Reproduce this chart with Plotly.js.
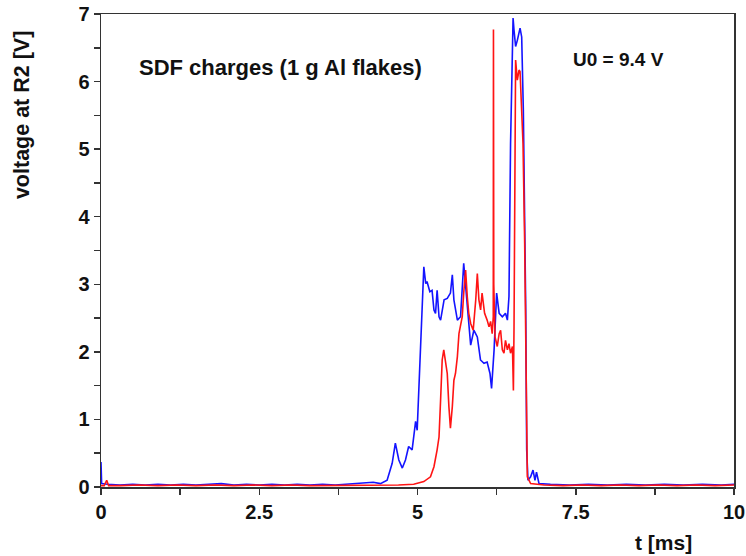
<!DOCTYPE html>
<html>
<head>
<meta charset="utf-8">
<script src="https://cdn.plot.ly/plotly-3.0.1.min.js"></script>
<style>html,body{margin:0;padding:0;background:#fff;}#chart{width:746px;height:556px;}</style>
</head>
<body>
<div id="chart"></div>
<script>
// Blue trace (time in ms, voltage in V)
var blueT = [0, 0.01, 0.1, 0.3, 0.5, 0.7, 0.9, 1.1, 1.3, 1.5, 1.7, 1.9, 2.1, 2.3, 2.5, 2.7, 2.9, 3.1, 3.3, 3.5, 3.7, 3.9, 4.1, 4.2, 4.3, 4.415,
  4.52, 4.60, 4.65, 4.705, 4.76, 4.81, 4.86, 4.915, 4.97, 4.995, 5.02, 5.05, 5.075, 5.10, 5.13, 5.15, 5.195, 5.23, 5.26, 5.285, 5.31, 5.34, 5.365,
  5.42, 5.47, 5.52, 5.55, 5.575, 5.63, 5.68, 5.73, 5.775, 5.81, 5.84, 5.89, 5.945, 5.995, 6.05, 6.10, 6.145, 6.17, 6.21, 6.25, 6.29, 6.34, 6.39,
  6.42, 6.445, 6.47, 6.498, 6.51, 6.525, 6.55, 6.577, 6.62, 6.646, 6.672, 6.71, 6.725, 6.745, 6.787, 6.825, 6.856, 6.88, 6.92,
  7.1, 7.4, 7.7, 8.0, 8.3, 8.6, 8.9, 9.2, 9.5, 9.8, 10.0];
var blueV = [0.37, 0.05, 0.04, 0.03, 0.04, 0.03, 0.04, 0.03, 0.04, 0.03, 0.04, 0.05, 0.03, 0.04, 0.03, 0.04, 0.03, 0.04, 0.03, 0.04, 0.03, 0.04, 0.05, 0.06, 0.07, 0.05,
  0.10, 0.35, 0.65, 0.40, 0.28, 0.40, 0.60, 0.55, 0.97, 0.84, 1.43, 2.03, 2.77, 3.26, 3.01, 3.04, 2.89, 2.91, 2.62, 2.57, 2.91, 2.52, 2.47,
  2.77, 2.79, 2.87, 3.14, 2.77, 2.47, 2.52, 3.31, 2.77, 2.37, 2.10, 2.32, 2.22, 1.88, 1.83, 1.85, 1.68, 1.46, 2.03, 2.87, 2.57, 2.52, 2.57,
  2.47, 2.82, 5.08, 6.76, 6.94, 6.76, 6.52, 6.61, 6.79, 6.66, 5.58, 2.62, 0.55, 0.10, 0.15, 0.25, 0.10, 0.22, 0.05,
  0.04, 0.03, 0.04, 0.03, 0.04, 0.03, 0.04, 0.03, 0.04, 0.03, 0.04];

// Red trace
var redT = [0, 0.05, 0.09, 0.12, 0.3, 0.6, 0.9, 1.2, 1.5, 1.8, 2.1, 2.4, 2.7, 3.0, 3.3, 3.6, 3.9, 4.2, 4.5, 4.7, 4.94, 5.10, 5.205, 5.26, 5.31,
  5.34, 5.365, 5.39, 5.415, 5.44, 5.47, 5.496, 5.52, 5.55, 5.575, 5.60, 5.63, 5.655, 5.68, 5.707, 5.73, 5.76, 5.786, 5.81, 5.84, 5.88, 5.92,
  5.945, 5.97, 5.997, 6.02, 6.06, 6.10, 6.13, 6.155, 6.18, 6.197, 6.200, 6.205, 6.225, 6.26, 6.29, 6.313, 6.34, 6.366, 6.39, 6.42, 6.445,
  6.47, 6.50, 6.515, 6.525, 6.54, 6.55, 6.577, 6.604, 6.62, 6.64, 6.667, 6.693, 6.71, 6.735, 6.787,
  7.0, 7.3, 7.6, 7.9, 8.2, 8.5, 8.8, 9.1, 9.4, 9.7, 10.0];
var redV = [0.02, 0.02, 0.10, 0.02, 0.02, 0.03, 0.02, 0.03, 0.02, 0.03, 0.02, 0.03, 0.02, 0.03, 0.02, 0.02, 0.03, 0.02, 0.02, 0.03, 0.04, 0.08, 0.15, 0.30, 0.55,
  0.74, 1.29, 1.88, 2.03, 1.88, 1.68, 1.19, 0.87, 1.19, 1.58, 1.68, 1.93, 2.27, 2.42, 2.52, 2.87, 3.21, 2.82, 2.57, 2.42, 2.32, 2.77,
  3.16, 2.77, 2.62, 2.87, 2.57, 2.47, 2.37, 2.45, 2.27, 2.52, 6.77, 3.00, 2.22, 2.08, 2.27, 2.32, 2.03, 1.98, 2.17, 2.03, 2.12,
  1.98, 2.08, 1.43, 2.37, 5.08, 6.32, 6.02, 6.17, 6.15, 5.77, 5.08, 3.61, 2.03, 0.15, 0.05,
  0.03, 0.02, 0.03, 0.02, 0.03, 0.02, 0.03, 0.02, 0.03, 0.02, 0.03];

var xTickVals = [0, 2.5, 5, 7.5, 10];
var xTickText = ['0', '2.5', '5', '7.5', '10'];
var yTickVals = [0, 1, 2, 3, 4, 5, 6, 7];
var yTickText = ['0', '1', '2', '3', '4', '5', '6', '7'];

var F = 'Liberation Sans, Arial, sans-serif';

var traces = [
  {x: blueT, y: blueV, type: 'scatter', mode: 'lines', line: {color: 'rgb(20,20,255)', width: 1.6}, hoverinfo: 'none'},
  {x: redT, y: redV, type: 'scatter', mode: 'lines', line: {color: 'rgb(255,20,20)', width: 1.6}, hoverinfo: 'none'}
];

var axisCommon = {
  showgrid: false, zeroline: false, showline: true, mirror: true,
  linecolor: '#333', linewidth: 1.5,
  ticks: 'outside', ticklen: 6, tickwidth: 1.5, tickcolor: '#333',
  tickfont: {family: F, size: 20, weight: 'bold', color: '#111'}
};

var layout = {
  width: 746, height: 556,
  margin: {l: 101, r: 12, t: 14, b: 69},
  paper_bgcolor: '#fff', plot_bgcolor: '#fff',
  showlegend: false,
  xaxis: Object.assign({}, axisCommon, {
    range: [0, 10], tickmode: 'array', tickvals: xTickVals, ticktext: xTickText,
    minor: {dtick: 1.25, tick0: 0, ticks: 'outside', ticklen: 6, tickwidth: 1.5, tickcolor: '#333'}
  }),
  yaxis: Object.assign({}, axisCommon, {
    range: [0, 7], tickmode: 'array', tickvals: yTickVals, ticktext: yTickText,
    minor: {dtick: 0.5, tick0: 0, ticks: 'outside', ticklen: 6, tickwidth: 1.5, tickcolor: '#333'}
  }),
  annotations: [
    {text: 'SDF charges (1 g Al flakes)', xref: 'paper', yref: 'paper', x: 0.284, y: 0.886, showarrow: false,
     xanchor: 'center', yanchor: 'middle', font: {family: F, size: 22, weight: 'bold', color: '#111'}},
    {text: 'U0 = 9.4 V', xref: 'paper', yref: 'paper', x: 0.818, y: 0.903, showarrow: false,
     xanchor: 'center', yanchor: 'middle', font: {family: F, size: 19, weight: 'bold', color: '#111'}},
    {text: 'voltage at R2 [V]', xref: 'paper', yref: 'paper', x: -0.125, y: 0.786, showarrow: false, textangle: -90,
     xanchor: 'center', yanchor: 'middle', font: {family: F, size: 21.5, weight: 'bold', color: '#111'}},
    {text: 't [ms]', xref: 'paper', yref: 'paper', x: 0.889, y: -0.118, showarrow: false,
     xanchor: 'center', yanchor: 'middle', font: {family: F, size: 21, weight: 'bold', color: '#111'}}
  ]
};

Plotly.newPlot('chart', traces, layout, {staticPlot: true, displayModeBar: false});
</script>
</body>
</html>
